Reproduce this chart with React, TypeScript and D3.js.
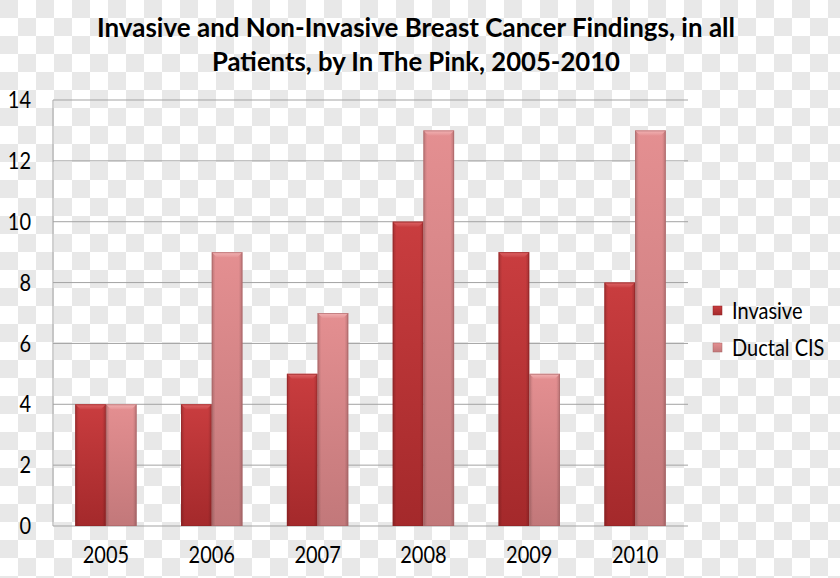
import React from "react";
import * as d3 from "d3";

const years = ["2005", "2006", "2007", "2008", "2009", "2010"];
const invasive = [4, 4, 5, 10, 9, 8];
const ductalCIS = [4, 9, 7, 13, 5, 13];
const seriesNames = ["Invasive", "Ductal CIS"];
const yTicks = [0, 2, 4, 6, 8, 10, 12, 14];
const titleLines = [
  "Invasive and Non-Invasive Breast Cancer Findings, in all",
  "Patients, by In The Pink, 2005-2010",
];

const W = 840;
const H = 578;
const FONT = "Lato, 'Open Sans', sans-serif";
const SY = 1.12;

export default function App() {
  const x0 = d3.scaleBand<string>().domain(years).range([53, 688]).paddingInner(0.42).paddingOuter(0.21);
  const x1 = d3.scaleBand<string>().domain(seriesNames).range([0, x0.bandwidth()]);
  const y = d3.scaleLinear().domain([0, 14]).range([526, 100]);

  const series = [invasive, ductalCIS];
  const grads = ["gInv", "gDuc"];
  const caps = ["cInv", "cDuc"];

  const bars: React.ReactNode[] = [];
  years.forEach((yr, i) => {
    series.forEach((vals, s) => {
      const v = vals[i];
      const bx = (x0(yr) as number) + (x1(seriesNames[s]) as number);
      const bw = x1.bandwidth();
      const by = y(v);
      const bh = y(0) - by;
      const b = 5;
      bars.push(
        <g key={yr + s}>
          <rect x={bx} y={by} width={bw} height={bh} fill={`url(#${grads[s]})`} />
          <rect x={bx} y={by} width={bw} height={bh} fill="url(#edge)" />
          <polygon
            points={`${bx},${by} ${bx + bw},${by} ${bx + bw - b},${by + b} ${bx + b},${by + b}`}
            fill={`url(#${caps[s]})`}
          />
          <rect x={bx + 0.5} y={by + 0.5} width={bw - 1} height={bh - 1} fill="none" stroke={s === 0 ? "#8e2325" : "#a86466"} strokeOpacity={0.6} strokeWidth={1} />
        </g>
      );
    });
  });

  return (
    <svg width={W} height={H} style={{ position: "absolute", left: 0, top: 0 }} fontFamily={FONT}>
      <defs>
        <pattern id="checker" width={36} height={36} patternUnits="userSpaceOnUse">
          <rect width={36} height={36} fill="#ffffff" />
          <rect x={0} y={0} width={18} height={18} fill="#e8e8e8" />
          <rect x={18} y={18} width={18} height={18} fill="#e8e8e8" />
        </pattern>
        <linearGradient id="gInv" x1="0" y1="0" x2="0" y2="1">
          <stop offset="0" stopColor="#c93d3f" />
          <stop offset="1" stopColor="#a4292b" />
        </linearGradient>
        <linearGradient id="gDuc" x1="0" y1="0" x2="0" y2="1">
          <stop offset="0" stopColor="#e48f91" />
          <stop offset="1" stopColor="#c2787a" />
        </linearGradient>
        <linearGradient id="cInv" x1="0" y1="0" x2="0" y2="1">
          <stop offset="0" stopColor="#e06466" />
          <stop offset="1" stopColor="#c94446" />
        </linearGradient>
        <linearGradient id="cDuc" x1="0" y1="0" x2="0" y2="1">
          <stop offset="0" stopColor="#f2b3b4" />
          <stop offset="1" stopColor="#e59496" />
        </linearGradient>
        <linearGradient id="edge" x1="0" y1="0" x2="1" y2="0">
          <stop offset="0" stopColor="#000" stopOpacity={0.18} />
          <stop offset="0.12" stopColor="#000" stopOpacity={0} />
          <stop offset="0.88" stopColor="#000" stopOpacity={0} />
          <stop offset="1" stopColor="#000" stopOpacity={0.18} />
        </linearGradient>
      </defs>
      <rect width={W} height={H} fill="url(#checker)" />

      {titleLines.map((t, i) => (
        <text
          key={i}
          transform={`translate(416,${i === 0 ? 37 : 71}) scale(1,${SY})`}
          textAnchor="middle"
          fontWeight="bold"
          fontSize={24}
          textLength={i === 0 ? 638 : 408}
          lengthAdjust="spacingAndGlyphs"
          fill="#000"
        >
          {t}
        </text>
      ))}

      {yTicks.map((t) => (
        <g key={t}>
          <line x1={53} x2={688} y1={y(t)} y2={y(t)} stroke="#a3a3a3" strokeWidth={1} />
          <text transform={`translate(31,${y(t)}) scale(1,${SY})`} dy="0.36em" textAnchor="end" fontSize={20} fill="#000">
            {t}
          </text>
        </g>
      ))}
      <line x1={53} x2={53} y1={100} y2={526} stroke="#a3a3a3" strokeWidth={1} />

      {bars}

      {years.map((yr) => (
        <text key={yr} transform={`translate(${(x0(yr) as number) + x0.bandwidth() / 2},563) scale(1,${SY})`} textAnchor="middle" fontSize={20} fill="#000">
          {yr}
        </text>
      ))}

      {seriesNames.map((n, i) => (
        <g key={n}>
          <rect x={713} y={306 + i * 37} width={9} height={9} fill={`url(#${grads[i]})`} stroke={i === 0 ? "#8e2325" : "#a86466"} strokeWidth={0.5} />
          <text transform={`translate(732,${310.5 + i * 37}) scale(1,${SY})`} dy="0.36em" fontSize={20} fill="#000">
            {n}
          </text>
        </g>
      ))}
    </svg>
  );
}
